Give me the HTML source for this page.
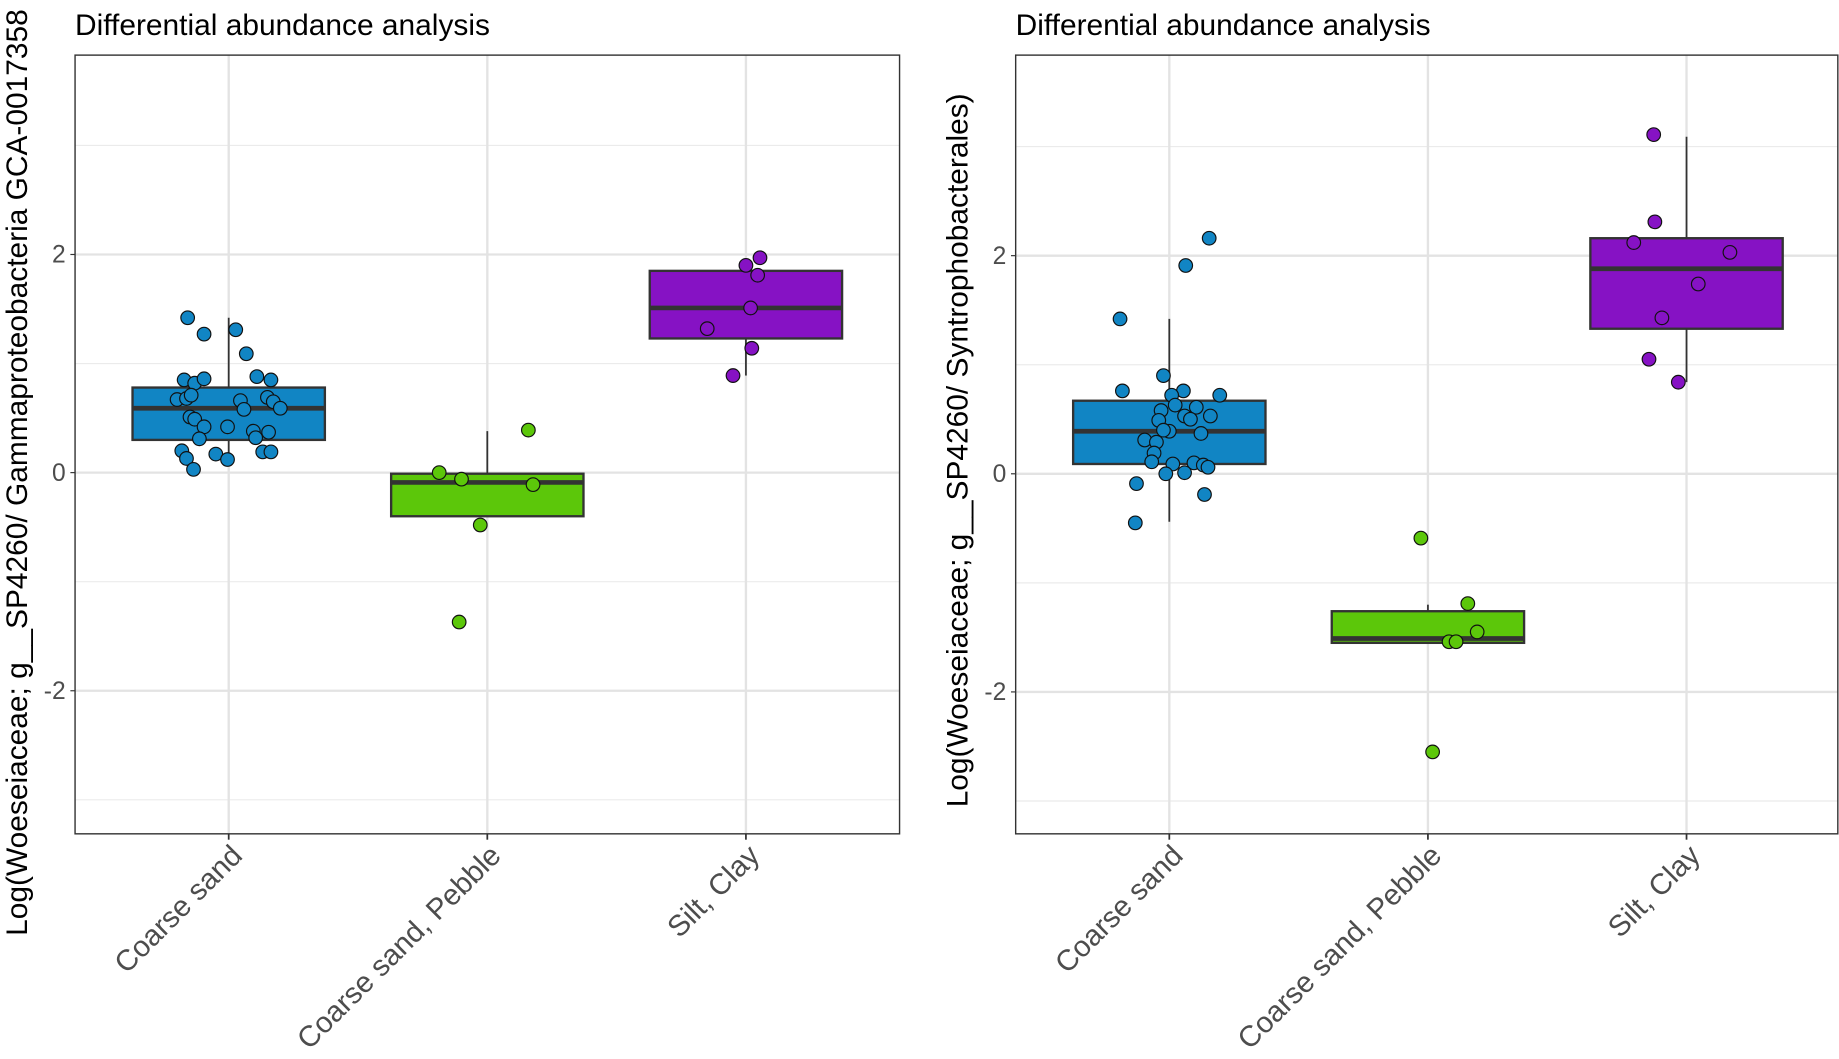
<!DOCTYPE html>
<html><head><meta charset="utf-8"><style>
html,body{margin:0;padding:0;background:#fff;}
svg{display:block;font-family:"Liberation Sans",Arial,sans-serif;}
</style></head><body>
<svg id="chart" width="1839" height="1059" viewBox="0 0 1568 903" preserveAspectRatio="none"></svg>
<script>
const categories = ["Coarse sand","Coarse sand, Pebble","Silt, Clay"];
const yTicks = [-2,0,2];
const yMinor = [-3,-1,1,3];
const colors = ["#1185c4","#5cc70a","#8612c4"];
const leftBoxes = [[0.10,0.30,0.59,0.78,1.42],[-0.40,-0.40,-0.09,-0.01,0.38],[0.89,1.23,1.51,1.85,1.85]];
const leftCoarseY = [1.42,1.27,1.31,1.09,0.85,0.82,0.86,0.88,0.85,0.67,0.68,0.71,0.66,0.58,0.69,0.65,0.59,0.51,0.49,0.42,0.42,0.38,0.32,0.37,0.31,0.20,0.17,0.12,0.19,0.19,0.13,0.03];
const leftCoarseJ = [-35,-21,6,15,-38,-29,-21,24,36,-44,-36,-32,10,13,33,38,44,-33,-29,-21,-1,21,23,34,-25,-40,-11,-1,29,36,-36,-30];
const leftPebbleY = [0.0,-0.06,-0.11,-0.48,-1.37,0.39];
const leftPebbleJ = [-41,-22,39,-6,-24,35];
const leftSiltY = [1.90,1.97,1.81,1.51,1.32,1.14,0.89];
const leftSiltJ = [0,12,10,4,-33,5,-11];
const rightBoxes = [[-0.44,0.09,0.39,0.67,1.42],[-1.55,-1.55,-1.51,-1.26,-1.20],[0.84,1.33,1.88,2.16,3.09]];
const rightCoarseY = [2.16,1.91,1.42,0.76,0.90,0.76,0.72,0.72,0.63,0.61,0.58,0.53,0.50,0.53,0.49,0.39,0.37,0.40,0.31,0.29,0.19,0.11,0.09,0.10,0.08,0.06,0.0,0.01,-0.09,-0.19,-0.45];
const rightCoarseJ = [34,14,-42,-40,-5,12,43,2,5,23,-7,13,18,35,-9,0,27,-5,-21,-11,-13,-15,3,21,29,33,-3,13,-28,30,-29];
const rightPebbleY = [-0.59,-1.19,-1.45,-1.54,-1.54,-2.55];
const rightPebbleJ = [-6,34,42,18,24,4];
const rightSiltY = [3.11,2.31,2.12,2.03,1.74,1.43,1.05,0.84];
const rightSiltJ = [-28,-27,-45,37,10,-21,-32,-7];

const NS="http://www.w3.org/2000/svg";
const svg=document.getElementById('chart');
function mk(tag,attrs,parent){const e=document.createElementNS(NS,tag);for(const k in attrs)e.setAttribute(k,attrs[k]);(parent||svg).appendChild(e);return e;}

function panel(p){
  const g=mk('g',{});
  
  
  const x0=p.x0,x1=p.x1,y0=47,y1=711;
  const ys=v=>p.zeroY-v*93;
  const xs=i=>p.cx0+i*220.5;
  mk('rect',{x:x0,y:y0,width:x1-x0,height:y1-y0,fill:'#fff'},g);
  yMinor.forEach(v=>{const l=mk('line',{x1:x0,x2:x1,y1:ys(v),y2:ys(v),stroke:'#ebebeb','stroke-width':1},g);
    });
  yTicks.forEach(v=>{const l=mk('line',{x1:x0,x2:x1,y1:ys(v),y2:ys(v),stroke:'#e3e3e3','stroke-width':2},g);
    
    const t=mk('text',{x:x0-8,y:ys(v)+7,'text-anchor':'end','font-size':21,fill:'#4d4d4d'},g);t.textContent=v;
    
    mk('line',{x1:x0-4,x2:x0,y1:ys(v),y2:ys(v),stroke:'#333'},g);});
  categories.forEach((c,i)=>{const l=mk('line',{x1:xs(i),x2:xs(i),y1:y0,y2:y1,stroke:'#e3e3e3','stroke-width':2},g);
    
    mk('line',{x1:xs(i),x2:xs(i),y1:y1,y2:y1+5,stroke:'#333','stroke-width':1.5},g);
    const t=mk('text',{x:0,y:0,'text-anchor':'end','font-size':25,fill:'#4d4d4d',transform:`translate(${xs(i)+13},${y1+20}) rotate(-45)`},g);t.textContent=c;
    });
  p.boxes.forEach((b,i)=>{const cx=xs(i),hw=82;
    const w=mk('line',{x1:cx,x2:cx,y1:ys(b[4]),y2:ys(b[0]),stroke:'#333','stroke-width':1.5},g);
    
    const r=mk('rect',{x:cx-hw,y:ys(b[3]),width:2*hw,height:ys(b[1])-ys(b[3]),fill:colors[i],stroke:'#333','stroke-width':2},g);
    
    const m=mk('line',{x1:cx-hw,x2:cx+hw,y1:ys(b[2]),y2:ys(b[2]),stroke:'#333','stroke-width':4},g);
    });
  p.pts.forEach((s,i)=>{s[0].forEach((v,k)=>{
    const c=mk('circle',{cx:xs(i)+s[1][k],cy:ys(v),r:5.8,fill:colors[i],stroke:'#111','stroke-width':1},g);
    });});
  mk('rect',{x:x0,y:y0,width:x1-x0,height:y1-y0,fill:'none',stroke:'#333','stroke-width':1.2},g);
  const t=mk('text',{x:x0,y:30,'font-size':25.5,fill:'#000'},g);t.textContent='Differential abundance analysis';
  
  const a=mk('text',{x:0,y:0,'text-anchor':p.yAnchor,'font-size':25.5,fill:'#000',transform:`translate(${p.yTitleX},${p.yTitleY}) rotate(-90)`},g);a.textContent=p.yTitle;
  
}
panel({name:'left-panel',x0:64,x1:767,zeroY:403,cx0:195,boxes:leftBoxes,
  pts:[[leftCoarseY,leftCoarseJ],[leftPebbleY,leftPebbleJ],[leftSiltY,leftSiltJ]],
  yTitle:'Log(Woeseiaceae; g__SP4260/ Gammaproteobacteria GCA-0017358',yAnchor:'start',yTitleX:23,yTitleY:798});
panel({name:'right-panel',x0:866,x1:1567,zeroY:404,cx0:997,boxes:rightBoxes,
  pts:[[rightCoarseY,rightCoarseJ],[rightPebbleY,rightPebbleJ],[rightSiltY,rightSiltJ]],
  yTitle:'Log(Woeseiaceae; g__SP4260/ Syntrophobacterales)',yAnchor:'middle',yTitleX:825,yTitleY:384});
</script>
</body></html>
